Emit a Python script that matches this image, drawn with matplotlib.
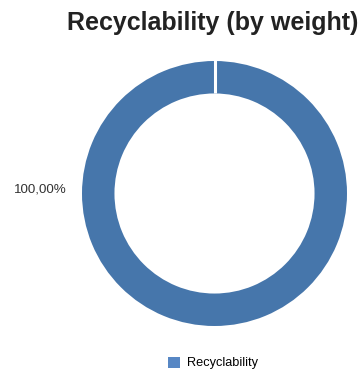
import numpy as np
import matplotlib.pyplot as plt
from matplotlib.patches import Patch

# Data
categories = ['Recyclability']
values = [100.0]
pct_labels = ['100,00%']

plt.rcParams['font.family'] = ['Liberation Sans', 'DejaVu Sans']

START = 90
RING = 0.245

fig = plt.figure(figsize=(3.62, 3.72), dpi=100)
cx, cy, r = 214.5, 193.5, 132.5
ax = fig.add_axes([(cx - r)/362, 1 - (cy + r)/372, 2*r/362, 2*r/372])

ax.pie(values, startangle=START, counterclock=False, colors=['#4676ab'],
       wedgeprops=dict(width=RING, edgecolor='none'))
# white separator where the slice starts
a = np.deg2rad(START)
ax.plot([(1 - RING) * np.cos(a), 1.02 * np.cos(a)],
        [(1 - RING) * np.sin(a), 1.02 * np.sin(a)],
        color='white', linewidth=2.2, solid_capstyle='butt')
ax.set_xlim(-1, 1)
ax.set_ylim(-1, 1)
ax.set_aspect('equal')
ax.axis('off')

fig.text(14/362, 1 - 189/372, pct_labels[0], fontsize=9.6, color='#333333',
         ha='left', va='center')

fig.text(212.5/362, 1 - 23/372, 'Recyclability (by weight)', fontsize=18,
         fontweight='bold', color='#222222', ha='center', va='center')

handles = [Patch(facecolor='#5787c4', edgecolor='none', label=categories[0])]
fig.legend(handles=handles, loc='center', bbox_to_anchor=(213/362, 1 - 363/372),
           frameon=False, fontsize=9.2, handlelength=0.95, handleheight=0.95,
           handletextpad=0.5)

fig.savefig('out.png', dpi=100)
